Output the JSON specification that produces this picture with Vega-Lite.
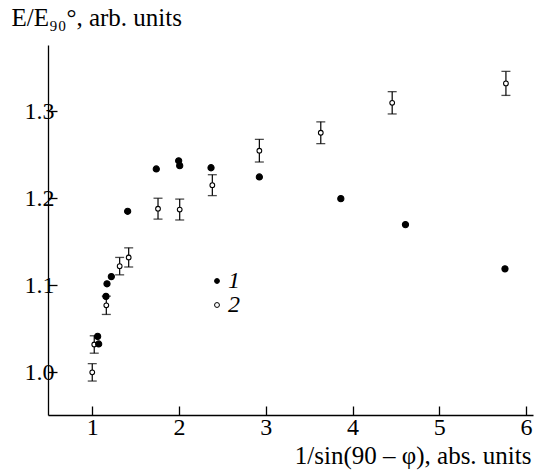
{
  "$schema": "https://vega.github.io/schema/vega-lite/v6.json",
  "width": 485,
  "height": 370,
  "autosize": "none",
  "padding": {"left": 48, "top": 45, "right": 1, "bottom": 56},
  "background": "white",
  "config": {
    "view": {"stroke": null},
    "font": "Liberation Serif",
    "axis": {
      "grid": false,
      "domainColor": "black",
      "domainWidth": 1.3,
      "tickColor": "black",
      "tickWidth": 1.3,
      "labelFont": "Liberation Serif",
      "labelFontSize": 24,
      "labelColor": "black",
      "titleFont": "Liberation Serif",
      "titleFontSize": 25,
      "titleFontWeight": "normal",
      "titleColor": "black"
    }
  },
  "data": {
    "values": [
      {"series": "2", "x": 1.0, "y": 1.0, "lo": 0.99, "hi": 1.01},
      {"series": "2", "x": 1.023, "y": 1.032, "lo": 1.022, "hi": 1.042},
      {"series": "2", "x": 1.162, "y": 1.077, "lo": 1.0665, "hi": 1.0875},
      {"series": "2", "x": 1.316, "y": 1.122, "lo": 1.112, "hi": 1.132},
      {"series": "2", "x": 1.42, "y": 1.132, "lo": 1.121, "hi": 1.143},
      {"series": "2", "x": 1.758, "y": 1.188, "lo": 1.176, "hi": 1.2},
      {"series": "2", "x": 2.008, "y": 1.187, "lo": 1.175, "hi": 1.199},
      {"series": "2", "x": 2.384, "y": 1.215, "lo": 1.203, "hi": 1.227},
      {"series": "2", "x": 2.926, "y": 1.2546, "lo": 1.2416, "hi": 1.2676},
      {"series": "2", "x": 3.634, "y": 1.2752, "lo": 1.2627, "hi": 1.2877},
      {"series": "2", "x": 4.457, "y": 1.3096, "lo": 1.2968, "hi": 1.3224},
      {"series": "2", "x": 5.768, "y": 1.3319, "lo": 1.3181, "hi": 1.3457},
      {"series": "1", "x": 1.062, "y": 1.0413},
      {"series": "1", "x": 1.074, "y": 1.0326},
      {"series": "1", "x": 1.158, "y": 1.0872},
      {"series": "1", "x": 1.17, "y": 1.1017},
      {"series": "1", "x": 1.22, "y": 1.11},
      {"series": "1", "x": 1.408, "y": 1.185},
      {"series": "1", "x": 1.738, "y": 1.2336},
      {"series": "1", "x": 1.996, "y": 1.243},
      {"series": "1", "x": 2.008, "y": 1.2374},
      {"series": "1", "x": 2.369, "y": 1.235},
      {"series": "1", "x": 2.926, "y": 1.2244},
      {"series": "1", "x": 3.865, "y": 1.1995},
      {"series": "1", "x": 4.61, "y": 1.1697},
      {"series": "1", "x": 5.757, "y": 1.1189}
    ]
  },
  "encoding": {
    "x": {
      "field": "x",
      "type": "quantitative",
      "scale": {"domain": [0.49, 6.08], "nice": false, "zero": false},
      "axis": {
        "values": [1, 2, 3, 4, 5, 6],
        "format": "d",
        "tickSize": -9,
        "labelPadding": 9,
        "title": "1/sin(90 – φ), abs. units",
        "titleAnchor": null,
        "titleAlign": "right",
        "titleBaseline": "alphabetic",
        "titleX": 483,
        "titleY": 48
      }
    }
  },
  "layer": [
    {
      "transform": [{"filter": "datum.series == '2'"}],
      "mark": {"type": "rule", "color": "black", "strokeWidth": 1.2},
      "encoding": {
        "y": {"field": "lo", "type": "quantitative"},
        "y2": {"field": "hi"}
      }
    },
    {
      "transform": [{"filter": "datum.series == '2'"}],
      "mark": {"type": "tick", "color": "black", "orient": "horizontal", "size": 9, "thickness": 1.3},
      "encoding": {
        "y": {"field": "lo", "type": "quantitative"}
      }
    },
    {
      "transform": [{"filter": "datum.series == '2'"}],
      "mark": {"type": "tick", "color": "black", "orient": "horizontal", "size": 9, "thickness": 1.3},
      "encoding": {
        "y": {"field": "hi", "type": "quantitative"}
      }
    },
    {
      "mark": {"type": "point", "filled": true, "stroke": "black", "strokeWidth": 1.1, "opacity": 1},
      "encoding": {
        "y": {
          "field": "y",
          "type": "quantitative",
          "scale": {"domain": [0.951, 1.376], "nice": false, "zero": false},
          "axis": {
            "values": [1.0, 1.1, 1.2, 1.3],
            "format": ".1f",
            "tickSize": -9,
            "labelPadding": 3,
            "title": "E/E₉₀°, arb. units",
            "titleAngle": 0,
            "titleAlign": "left",
            "titleBaseline": "alphabetic",
            "titleAnchor": null,
            "titleX": -37,
            "titleY": -20
          }
        },
        "fill": {
          "field": "series",
          "type": "nominal",
          "scale": {"domain": ["1", "2"], "range": ["black", "white"]},
          "legend": {
            "orient": "none",
            "legendX": 157,
            "legendY": 224,
            "title": null,
            "padding": 0,
            "labelFont": "Liberation Serif",
            "labelFontSize": 24,
            "labelFontStyle": "italic",
            "labelColor": "black",
            "labelOffset": -1,
            "rowPadding": 0,
            "symbolType": "circle",
            "symbolStrokeColor": "black",
            "symbolStrokeWidth": 1,
            "symbolSize": 24
          }
        },
        "size": {
          "condition": {"test": "datum.series == '2'", "value": 22},
          "value": 38
        }
      }
    }
  ]
}
